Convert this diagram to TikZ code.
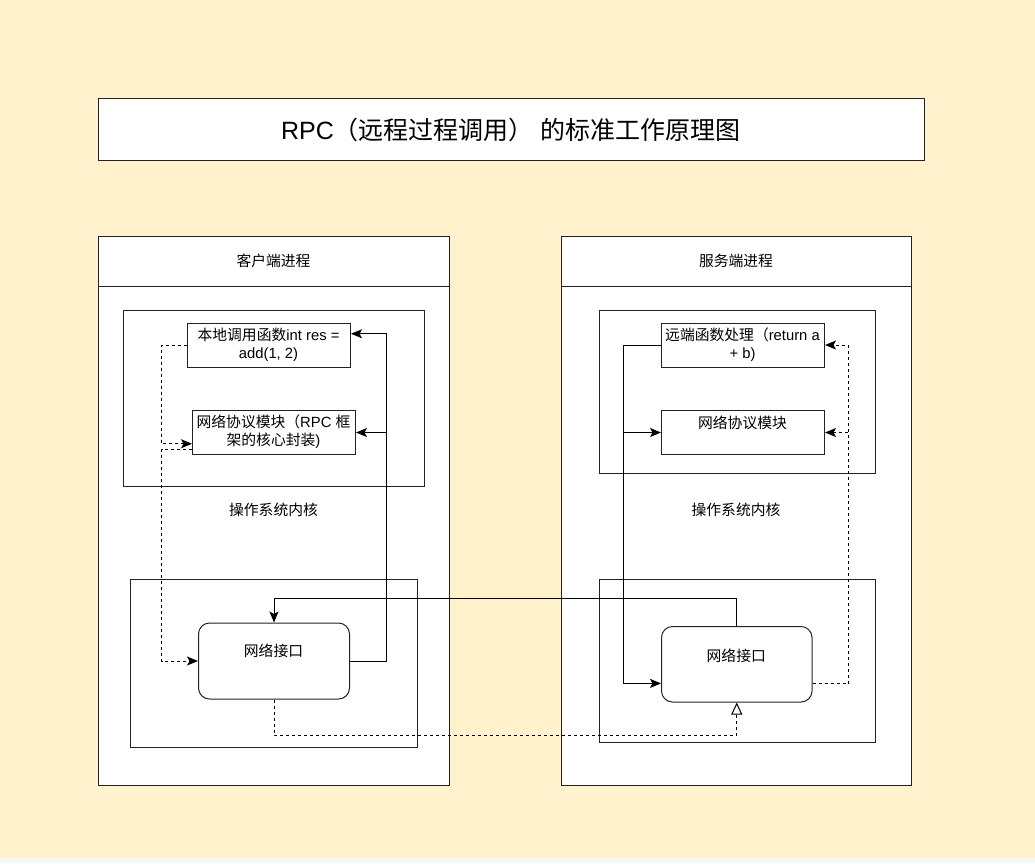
\documentclass[tikz,border=0pt]{standalone}
\usepackage{fontspec}
\setmainfont{Liberation Sans}
\newfontfamily\cjk{Noto Sans CJK SC}
\usetikzlibrary{arrows.meta,calc}
\definecolor{bgy}{HTML}{FFF2CC}
\definecolor{bdr}{HTML}{222222}
\tikzset{
  box/.style={draw=bdr,line width=1pt,fill=white,anchor=north west,inner sep=0pt},
  plain/.style={draw=bdr,line width=1pt,anchor=north west,inner sep=0pt},
  rbox/.style={draw=bdr,line width=1pt,fill=white,anchor=north west,inner sep=0pt,rounded corners=11pt},
  txt/.style={inner sep=0pt,align=center,font=\fontsize{14.8}{18.3}\selectfont},
  conn/.style={line width=1pt,draw=black,-{Stealth[length=11pt,width=9pt,inset=2.5pt]}},
  dconn/.style={conn,dash pattern=on 3pt off 3pt},
  oconn/.style={line width=1pt,draw=black,dash pattern=on 3pt off 3pt,-{Triangle[open,length=12pt,width=11pt,fill=white]}}
}
\begin{document}
\begin{tikzpicture}[x=1pt,y=-1pt]
\useasboundingbox (0,0) rectangle (1035,863);
\fill[bgy] (0,0) rectangle (1035,858);
\fill[gray!6] (0,858) rectangle (1035,863);
% title
\node[box,minimum width=826pt,minimum height=62pt] (title) at (98,98) {};
\node[inner sep=0pt,font=\fontsize{25}{30}\selectfont] (titlet) at (511,130) {RPC{\cjk （远程过程调用）} {\cjk 的标准工作原理图}};
% containers
\node[box,minimum width=351pt,minimum height=549pt] (client) at (98,236) {};
\draw[line width=1pt,draw=bdr] (client.west |- 0,286) coordinate (chl) -- (client.east |- 0,286) coordinate (chr);
\node[txt] (clientt) at (273.5,261) {\cjk 客户端进程};
\node[box,minimum width=350pt,minimum height=549pt] (server) at (561,236) {};
\draw[line width=1pt,draw=bdr] (server.west |- 0,286) coordinate (shl) -- (server.east |- 0,286) coordinate (shr);
\node[txt] (servert) at (736,261) {\cjk 服务端进程};
% client inner
\node[plain,minimum width=301pt,minimum height=176pt] (ctop) at (123,310) {};
\node[plain,minimum width=287pt,minimum height=168pt] (cbot) at (130,579) {};
\node[txt] (ckern) at (273.5,510) {\cjk 操作系统内核};
\node[box,minimum width=163pt,minimum height=44pt] (cn1) at (187,322.5) {};
\node[txt] (cn1t) at (268.5,344.5) {{\cjk 本地调用函数}int res =\\add(1, 2)};
\node[box,minimum width=163pt,minimum height=44pt] (cn2) at (192,410) {};
\node[txt] (cn2t) at (273.5,432) {{\cjk 网络协议模块（}RPC {\cjk 框}\\{\cjk 架的核心封装}){}};
\node[rbox,minimum width=151pt,minimum height=76pt] (cnet) at (198,622.5) {};
\node[txt] (cnett) at (273.5,651) {\cjk 网络接口};
% server inner
\node[plain,minimum width=276pt,minimum height=163pt] (stop) at (598.5,310) {};
\node[plain,minimum width=276pt,minimum height=162.5pt] (sbot) at (598.5,579) {};
\node[txt] (skern) at (736,510) {\cjk 操作系统内核};
\node[box,minimum width=163pt,minimum height=44pt] (sn1) at (661,322.5) {};
\node[txt] (sn1t) at (742.5,344.5) {{\cjk 远端函数处理（}return a\\+ b)};
\node[box,minimum width=163pt,minimum height=44pt] (sn2) at (661,410) {};
\node[txt] (sn2t) at (742.5,423) {\cjk 网络协议模块};
\node[rbox,minimum width=150.5pt,minimum height=75.5pt] (snet) at (661,626) {};
\node[txt] (snett) at (736.25,656) {\cjk 网络接口};
% helper coordinates
\coordinate (cn1e) at ($(cn1.north east)!0.25!(cn1.south east)$);
\coordinate (cn2w) at ($(cn2.north west)!0.75!(cn2.south west)$);
\coordinate (cn2wb) at ($(cn2.north west)!0.875!(cn2.south west)$);
\coordinate (snw) at ($(snet.north west)!0.75!(snet.south west)$);
\coordinate (sne) at ($(snet.north east)!0.75!(snet.south east)$);
\coordinate (cx) at (386,0);
\coordinate (lx) at (161.5,0);
\coordinate (sx) at (623.5,0);
\coordinate (rx) at (848.7,0);
\coordinate (ly) at (0,735.5);
\coordinate (ty) at (0,598);
% client connectors
\draw[conn] (cnet.east) -| (cx |- cn1e) -- (cn1e);
\draw[conn] (cnet.east) -| (cx |- cn2.east) -- (cn2.east);
\draw[dconn] (cn1.west) -| (lx |- cn2w) -- (cn2w);
\draw[dconn] (cn2wb) -| (lx |- cnet.west) -- (cnet.west);
% cross connectors
\draw[oconn] (cnet.south) -- (cnet.south |- ly) -| (snet.south);
\draw[conn] (snet.north) -- (snet.north |- ty) -| (cnet.north);
% server connectors
\draw[conn] (sn1.west) -| (sx |- snw) -- (snw);
\draw[conn] (sn1.west) -| (sx |- sn2.west) -- (sn2.west);
\draw[dconn] (sne) -| (rx |- sn1.east) -- (sn1.east);
\draw[dconn] (sne) -| (rx |- sn2.east) -- (sn2.east);
\end{tikzpicture}
\end{document}
